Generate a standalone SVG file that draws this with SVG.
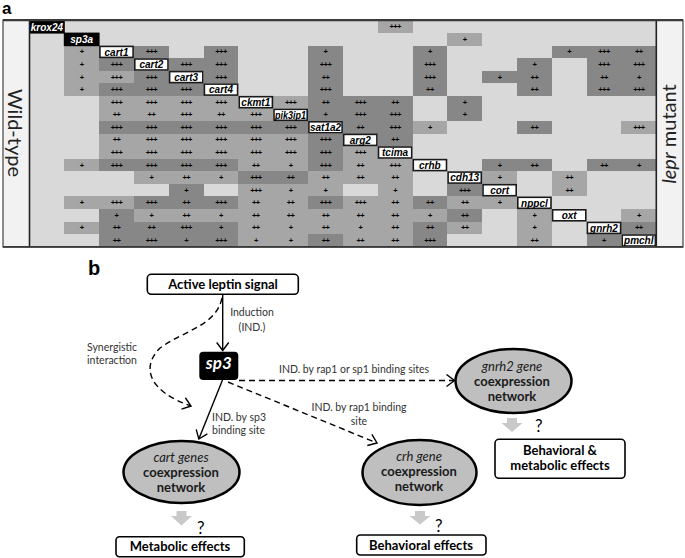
<svg xmlns="http://www.w3.org/2000/svg" xmlns:xlink="http://www.w3.org/1999/xlink" width="685" height="558" viewBox="0 0 685 558">
<defs>
<style>
.row text{font-family:"Liberation Sans",Arial,sans-serif;font-weight:bold;font-size:7.5px;letter-spacing:-0.6px;text-anchor:middle;fill:#000}
.lb rect{fill:#fff;stroke:#1a1a1a;stroke-width:1.6}
.lb text{font-family:"Liberation Sans",Arial,sans-serif;font-weight:bold;font-style:italic;font-size:10px;text-anchor:middle;fill:#000}
.lb.k rect{fill:#000;stroke:#000}
.lb.k text{fill:#fff}
.side{font-family:Lato,"Open Sans",sans-serif;font-size:20px;fill:#222;text-anchor:middle}
.box{fill:#fff;stroke:#000;stroke-width:1.6}
.bt{font-family:Lato,"Open Sans",sans-serif;font-weight:bold;font-size:13px;text-anchor:middle;fill:#000}
.sm{font-family:Lato,"Open Sans",sans-serif;font-size:10.5px;fill:#333}
.ell{fill:#bfbfbf;stroke:#000;stroke-width:2.5}
.et{font-family:Lato,"Open Sans",sans-serif;font-size:13px;text-anchor:middle;fill:#1a1a1a}
.et .i{font-style:italic}
.et .b{font-weight:bold}
.ga{fill:#c9c9c9}
.q{font-family:Lato,"Open Sans",sans-serif;font-size:17px;fill:#000}
.conn{fill:none;stroke:#000;stroke-width:1.4}
.dash{stroke-dasharray:6 4}
</style>
<rect id="M" width="34.82" height="12.57" fill="#a6a6a6" shape-rendering="crispEdges"/>
<rect id="D" width="34.82" height="12.57" fill="#878787" shape-rendering="crispEdges"/>
<marker id="ah" viewBox="-1 -1 14 14" refX="8" refY="6" markerWidth="14" markerHeight="14" markerUnits="userSpaceOnUse" orient="auto">
<path d="M0,0 L8,6 L0,12" fill="none" stroke="#000" stroke-width="1.4"/>
</marker>
</defs>
<rect width="685" height="558" fill="#fff"/>

<!-- panel a -->
<text x="2" y="14" font-family="Liberation Sans,Arial,sans-serif" font-weight="bold" font-size="17">a</text>
<rect x="3" y="20" width="680" height="227" fill="#f2f2f2" stroke="#444" stroke-width="1.2"/>
<rect x="29.5" y="20.5" width="626.8" height="226.3" fill="#d9d9d9" shape-rendering="crispEdges"/>

<g id="grid">
<g class="row" transform="translate(0,20.5)"><use xlink:href="#M" x="377.7"/><text x="395.1" y="8.8">+++</text></g>
<g class="row" transform="translate(0,33.07)"><use xlink:href="#M" x="447.3"/><text x="464.7" y="8.8">+</text></g>
<g class="row" transform="translate(0,45.64)">
<use xlink:href="#M" x="64.3"/><text x="81.7" y="8.8">+</text>
<use xlink:href="#D" x="134.0"/><text x="151.4" y="8.8">+++</text>
<use xlink:href="#D" x="203.6"/><text x="221.0" y="8.8">+++</text>
<use xlink:href="#D" x="308.1"/><text x="325.5" y="8.8">+</text>
<use xlink:href="#D" x="412.5"/><text x="429.9" y="8.8">+</text>
<use xlink:href="#D" x="551.8"/><text x="569.2" y="8.8">+</text>
<use xlink:href="#D" x="586.6"/><text x="604.0" y="8.8">+++</text>
<use xlink:href="#D" x="621.4"/><text x="638.8" y="8.8">++</text>
</g>
<g class="row" transform="translate(0,58.21)">
<use xlink:href="#M" x="64.3"/><text x="81.7" y="8.8">+</text>
<use xlink:href="#D" x="99.1"/><text x="116.5" y="8.8">+++</text>
<use xlink:href="#D" x="168.8"/><text x="186.2" y="8.8">+++</text>
<use xlink:href="#D" x="203.6"/><text x="221.0" y="8.8">+++</text>
<use xlink:href="#D" x="308.1"/><text x="325.5" y="8.8">+++</text>
<use xlink:href="#D" x="412.5"/><text x="429.9" y="8.8">+++</text>
<use xlink:href="#D" x="517.0"/><text x="534.4" y="8.8">+</text>
<use xlink:href="#D" x="586.6"/><text x="604.0" y="8.8">+++</text>
<use xlink:href="#D" x="621.4"/><text x="638.8" y="8.8">+++</text>
</g>
<g class="row" transform="translate(0,70.78)">
<use xlink:href="#M" x="64.3"/><text x="81.7" y="8.8">+</text>
<use xlink:href="#M" x="99.1"/><text x="116.5" y="8.8">+++</text>
<use xlink:href="#D" x="134.0"/><text x="151.4" y="8.8">+++</text>
<use xlink:href="#D" x="203.6"/><text x="221.0" y="8.8">+++</text>
<use xlink:href="#D" x="308.1"/><text x="325.5" y="8.8">++</text>
<use xlink:href="#D" x="412.5"/><text x="429.9" y="8.8">+++</text>
<use xlink:href="#D" x="482.2"/><text x="499.6" y="8.8">+</text>
<use xlink:href="#D" x="517.0"/><text x="534.4" y="8.8">++</text>
<use xlink:href="#D" x="586.6"/><text x="604.0" y="8.8">++</text>
<use xlink:href="#D" x="621.4"/><text x="638.8" y="8.8">+</text>
</g>
<g class="row" transform="translate(0,83.35)">
<use xlink:href="#M" x="64.3"/><text x="81.7" y="8.8">+</text>
<use xlink:href="#D" x="99.1"/><text x="116.5" y="8.8">+++</text>
<use xlink:href="#D" x="134.0"/><text x="151.4" y="8.8">+++</text>
<use xlink:href="#D" x="168.8"/><text x="186.2" y="8.8">+++</text>
<use xlink:href="#D" x="308.1"/><text x="325.5" y="8.8">+++</text>
<use xlink:href="#D" x="412.5"/><text x="429.9" y="8.8">++</text>
<use xlink:href="#D" x="517.0"/><text x="534.4" y="8.8">++</text>
<use xlink:href="#D" x="586.6"/><text x="604.0" y="8.8">+++</text>
<use xlink:href="#D" x="621.4"/><text x="638.8" y="8.8">+++</text>
</g>
<g class="row" transform="translate(0,95.92)">
<use xlink:href="#M" x="99.1"/><text x="116.5" y="8.8">+++</text>
<use xlink:href="#M" x="134.0"/><text x="151.4" y="8.8">+++</text>
<use xlink:href="#M" x="168.8"/><text x="186.2" y="8.8">+++</text>
<use xlink:href="#M" x="203.6"/><text x="221.0" y="8.8">+++</text>
<use xlink:href="#M" x="273.2"/><text x="290.6" y="8.8">+++</text>
<use xlink:href="#D" x="308.1"/><text x="325.5" y="8.8">++</text>
<use xlink:href="#D" x="342.9"/><text x="360.3" y="8.8">+++</text>
<use xlink:href="#D" x="377.7"/><text x="395.1" y="8.8">++</text>
<use xlink:href="#D" x="447.3"/><text x="464.7" y="8.8">+</text>
</g>
<g class="row" transform="translate(0,108.49)">
<use xlink:href="#M" x="99.1"/><text x="116.5" y="8.8">++</text>
<use xlink:href="#M" x="134.0"/><text x="151.4" y="8.8">++</text>
<use xlink:href="#M" x="168.8"/><text x="186.2" y="8.8">+++</text>
<use xlink:href="#M" x="203.6"/><text x="221.0" y="8.8">++</text>
<use xlink:href="#M" x="238.4"/><text x="255.8" y="8.8">+++</text>
<use xlink:href="#D" x="308.1"/><text x="325.5" y="8.8">+</text>
<use xlink:href="#D" x="342.9"/><text x="360.3" y="8.8">+++</text>
<use xlink:href="#D" x="377.7"/><text x="395.1" y="8.8">+++</text>
<use xlink:href="#D" x="447.3"/><text x="464.7" y="8.8">+</text>
</g>
<g class="row" transform="translate(0,121.06)">
<use xlink:href="#D" x="99.1"/><text x="116.5" y="8.8">+++</text>
<use xlink:href="#D" x="134.0"/><text x="151.4" y="8.8">+++</text>
<use xlink:href="#D" x="168.8"/><text x="186.2" y="8.8">+++</text>
<use xlink:href="#D" x="203.6"/><text x="221.0" y="8.8">+++</text>
<use xlink:href="#D" x="238.4"/><text x="255.8" y="8.8">+++</text>
<use xlink:href="#D" x="273.2"/><text x="290.6" y="8.8">+++</text>
<use xlink:href="#D" x="342.9"/><text x="360.3" y="8.8">++</text>
<use xlink:href="#D" x="377.7"/><text x="395.1" y="8.8">+++</text>
<use xlink:href="#M" x="412.5"/><text x="429.9" y="8.8">+</text>
<use xlink:href="#D" x="517.0"/><text x="534.4" y="8.8">++</text>
<use xlink:href="#M" x="621.4"/><text x="638.8" y="8.8">+++</text>
</g>
<g class="row" transform="translate(0,133.63)">
<use xlink:href="#M" x="99.1"/><text x="116.5" y="8.8">++</text>
<use xlink:href="#M" x="134.0"/><text x="151.4" y="8.8">+++</text>
<use xlink:href="#M" x="168.8"/><text x="186.2" y="8.8">+++</text>
<use xlink:href="#M" x="203.6"/><text x="221.0" y="8.8">+++</text>
<use xlink:href="#M" x="238.4"/><text x="255.8" y="8.8">+++</text>
<use xlink:href="#M" x="273.2"/><text x="290.6" y="8.8">+++</text>
<use xlink:href="#D" x="308.1"/><text x="325.5" y="8.8">+++</text>
<use xlink:href="#D" x="377.7"/><text x="395.1" y="8.8">++</text>
</g>
<g class="row" transform="translate(0,146.2)">
<use xlink:href="#M" x="99.1"/><text x="116.5" y="8.8">+++</text>
<use xlink:href="#M" x="134.0"/><text x="151.4" y="8.8">+++</text>
<use xlink:href="#M" x="168.8"/><text x="186.2" y="8.8">+++</text>
<use xlink:href="#M" x="203.6"/><text x="221.0" y="8.8">+++</text>
<use xlink:href="#M" x="238.4"/><text x="255.8" y="8.8">+++</text>
<use xlink:href="#M" x="273.2"/><text x="290.6" y="8.8">+++</text>
<use xlink:href="#D" x="308.1"/><text x="325.5" y="8.8">+++</text>
<use xlink:href="#M" x="342.9"/><text x="360.3" y="8.8">+++</text>
</g>
<g class="row" transform="translate(0,158.77)">
<use xlink:href="#M" x="64.3"/><text x="81.7" y="8.8">+</text>
<use xlink:href="#D" x="99.1"/><text x="116.5" y="8.8">+++</text>
<use xlink:href="#D" x="134.0"/><text x="151.4" y="8.8">+++</text>
<use xlink:href="#D" x="168.8"/><text x="186.2" y="8.8">+++</text>
<use xlink:href="#D" x="203.6"/><text x="221.0" y="8.8">+++</text>
<use xlink:href="#M" x="238.4"/><text x="255.8" y="8.8">++</text>
<use xlink:href="#M" x="273.2"/><text x="290.6" y="8.8">+</text>
<use xlink:href="#D" x="308.1"/><text x="325.5" y="8.8">+++</text>
<use xlink:href="#M" x="342.9"/><text x="360.3" y="8.8">++</text>
<use xlink:href="#M" x="377.7"/><text x="395.1" y="8.8">+++</text>
<use xlink:href="#D" x="482.2"/><text x="499.6" y="8.8">+</text>
<use xlink:href="#D" x="517.0"/><text x="534.4" y="8.8">++</text>
<use xlink:href="#D" x="586.6"/><text x="604.0" y="8.8">++</text>
<use xlink:href="#D" x="621.4"/><text x="638.8" y="8.8">+</text>
</g>
<g class="row" transform="translate(0,171.34)">
<use xlink:href="#M" x="134.0"/><text x="151.4" y="8.8">+</text>
<use xlink:href="#M" x="168.8"/><text x="186.2" y="8.8">++</text>
<use xlink:href="#M" x="203.6"/><text x="221.0" y="8.8">+</text>
<use xlink:href="#D" x="238.4"/><text x="255.8" y="8.8">+++</text>
<use xlink:href="#D" x="273.2"/><text x="290.6" y="8.8">++</text>
<use xlink:href="#M" x="308.1"/><text x="325.5" y="8.8">++</text>
<use xlink:href="#M" x="342.9"/><text x="360.3" y="8.8">++</text>
<use xlink:href="#M" x="377.7"/><text x="395.1" y="8.8">++</text>
<use xlink:href="#M" x="482.2"/><text x="499.6" y="8.8">+</text>
<use xlink:href="#M" x="551.8"/><text x="569.2" y="8.8">++</text>
</g>
<g class="row" transform="translate(0,183.91)">
<use xlink:href="#D" x="168.8"/><text x="186.2" y="8.8">+</text>
<use xlink:href="#M" x="238.4"/><text x="255.8" y="8.8">+++</text>
<use xlink:href="#M" x="273.2"/><text x="290.6" y="8.8">+</text>
<use xlink:href="#M" x="308.1"/><text x="325.5" y="8.8">+</text>
<use xlink:href="#M" x="377.7"/><text x="395.1" y="8.8">+</text>
<use xlink:href="#D" x="447.3"/><text x="464.7" y="8.8">+++</text>
<use xlink:href="#M" x="551.8"/><text x="569.2" y="8.8">++</text>
</g>
<g class="row" transform="translate(0,196.48)">
<use xlink:href="#M" x="64.3"/><text x="81.7" y="8.8">+</text>
<use xlink:href="#M" x="99.1"/><text x="116.5" y="8.8">+++</text>
<use xlink:href="#D" x="134.0"/><text x="151.4" y="8.8">+++</text>
<use xlink:href="#D" x="168.8"/><text x="186.2" y="8.8">++</text>
<use xlink:href="#D" x="203.6"/><text x="221.0" y="8.8">+++</text>
<use xlink:href="#M" x="238.4"/><text x="255.8" y="8.8">++</text>
<use xlink:href="#M" x="273.2"/><text x="290.6" y="8.8">++</text>
<use xlink:href="#D" x="308.1"/><text x="325.5" y="8.8">+++</text>
<use xlink:href="#M" x="342.9"/><text x="360.3" y="8.8">+++</text>
<use xlink:href="#M" x="377.7"/><text x="395.1" y="8.8">++</text>
<use xlink:href="#D" x="412.5"/><text x="429.9" y="8.8">++</text>
<use xlink:href="#M" x="447.3"/><text x="464.7" y="8.8">++</text>
<use xlink:href="#M" x="482.2"/><text x="499.6" y="8.8">+</text>
</g>
<g class="row" transform="translate(0,209.05)">
<use xlink:href="#D" x="99.1"/><text x="116.5" y="8.8">+</text>
<use xlink:href="#M" x="134.0"/><text x="151.4" y="8.8">+</text>
<use xlink:href="#M" x="168.8"/><text x="186.2" y="8.8">++</text>
<use xlink:href="#M" x="203.6"/><text x="221.0" y="8.8">+</text>
<use xlink:href="#M" x="238.4"/><text x="255.8" y="8.8">++</text>
<use xlink:href="#M" x="273.2"/><text x="290.6" y="8.8">++</text>
<use xlink:href="#M" x="308.1"/><text x="325.5" y="8.8">++</text>
<use xlink:href="#M" x="342.9"/><text x="360.3" y="8.8">++</text>
<use xlink:href="#M" x="377.7"/><text x="395.1" y="8.8">++</text>
<use xlink:href="#M" x="412.5"/><text x="429.9" y="8.8">+</text>
<use xlink:href="#D" x="447.3"/><text x="464.7" y="8.8">++</text>
<use xlink:href="#M" x="517.0"/><text x="534.4" y="8.8">+</text>
<use xlink:href="#M" x="621.4"/><text x="638.8" y="8.8">+</text>
</g>
<g class="row" transform="translate(0,221.62)">
<use xlink:href="#M" x="64.3"/><text x="81.7" y="8.8">+</text>
<use xlink:href="#D" x="99.1"/><text x="116.5" y="8.8">++</text>
<use xlink:href="#D" x="134.0"/><text x="151.4" y="8.8">++</text>
<use xlink:href="#D" x="168.8"/><text x="186.2" y="8.8">+++</text>
<use xlink:href="#D" x="203.6"/><text x="221.0" y="8.8">+</text>
<use xlink:href="#M" x="238.4"/><text x="255.8" y="8.8">++</text>
<use xlink:href="#M" x="273.2"/><text x="290.6" y="8.8">+</text>
<use xlink:href="#M" x="308.1"/><text x="325.5" y="8.8">++</text>
<use xlink:href="#M" x="342.9"/><text x="360.3" y="8.8">+</text>
<use xlink:href="#M" x="377.7"/><text x="395.1" y="8.8">++</text>
<use xlink:href="#D" x="412.5"/><text x="429.9" y="8.8">++</text>
<use xlink:href="#M" x="447.3"/><text x="464.7" y="8.8">++</text>
<use xlink:href="#M" x="517.0"/><text x="534.4" y="8.8">+</text>
<use xlink:href="#D" x="621.4"/><text x="638.8" y="8.8">++</text>
</g>
<g class="row" transform="translate(0,234.19)">
<use xlink:href="#D" x="99.1"/><text x="116.5" y="8.8">++</text>
<use xlink:href="#D" x="134.0"/><text x="151.4" y="8.8">+++</text>
<use xlink:href="#D" x="168.8"/><text x="186.2" y="8.8">+</text>
<use xlink:href="#D" x="203.6"/><text x="221.0" y="8.8">+++</text>
<use xlink:href="#M" x="238.4"/><text x="255.8" y="8.8">+</text>
<use xlink:href="#M" x="273.2"/><text x="290.6" y="8.8">+</text>
<use xlink:href="#D" x="308.1"/><text x="325.5" y="8.8">++</text>
<use xlink:href="#M" x="342.9"/><text x="360.3" y="8.8">++</text>
<use xlink:href="#M" x="377.7"/><text x="395.1" y="8.8">++</text>
<use xlink:href="#D" x="412.5"/><text x="429.9" y="8.8">+++</text>
<use xlink:href="#M" x="517.0"/><text x="534.4" y="8.8">++</text>
<use xlink:href="#D" x="586.6"/><text x="604.0" y="8.8">+</text>
</g>
</g>

<g id="gene-labels">
<g class="lb k" id="g-krox24"><rect x="29.8" y="20.8" width="34.2" height="12"/><text x="46.9" y="30.5">krox24</text></g>
<g class="lb k" id="g-sp3a"><rect x="64.6" y="33.4" width="34.2" height="12"/><text x="81.7" y="43.1">sp3a</text></g>
<g class="lb" id="g-cart1"><rect x="99.9" y="46.4" width="33.2" height="11"/><text x="116.5" y="55.6">cart1</text></g>
<g class="lb" id="g-cart2"><rect x="134.8" y="59" width="33.2" height="11"/><text x="151.4" y="68.2">cart2</text></g>
<g class="lb" id="g-cart3"><rect x="169.6" y="71.6" width="33.2" height="11"/><text x="186.2" y="80.8">cart3</text></g>
<g class="lb" id="g-cart4"><rect x="204.4" y="84.1" width="33.2" height="11"/><text x="221.0" y="93.3">cart4</text></g>
<g class="lb" id="g-ckmt1"><rect x="239.2" y="96.7" width="33.2" height="11"/><text x="255.8" y="105.9">ckmt1</text></g>
<g class="lb" id="g-pik3ip1"><rect x="274" y="109.3" width="33.2" height="11"/><text x="290.6" y="118.5" textLength="31" lengthAdjust="spacingAndGlyphs">pik3ip1</text></g>
<g class="lb" id="g-sat1a2"><rect x="308.9" y="121.8" width="33.2" height="11"/><text x="325.5" y="131">sat1a2</text></g>
<g class="lb" id="g-arg2"><rect x="343.7" y="134.4" width="33.2" height="11"/><text x="360.3" y="143.6">arg2</text></g>
<g class="lb" id="g-tcima"><rect x="378.5" y="147" width="33.2" height="11"/><text x="395.1" y="156.2">tcima</text></g>
<g class="lb" id="g-crhb"><rect x="413.3" y="159.6" width="33.2" height="11"/><text x="429.9" y="168.8">crhb</text></g>
<g class="lb" id="g-cdh13"><rect x="448.1" y="172.1" width="33.2" height="11"/><text x="464.7" y="181.3">cdh13</text></g>
<g class="lb" id="g-cort"><rect x="483" y="184.7" width="33.2" height="11"/><text x="499.6" y="193.9">cort</text></g>
<g class="lb" id="g-nppcl"><rect x="517.8" y="197.3" width="33.2" height="11"/><text x="534.4" y="206.5">nppcl</text></g>
<g class="lb" id="g-oxt"><rect x="552.6" y="209.8" width="33.2" height="11"/><text x="569.2" y="219">oxt</text></g>
<g class="lb" id="g-gnrh2"><rect x="587.4" y="222.4" width="33.2" height="11"/><text x="604.0" y="231.6">gnrh2</text></g>
<g class="lb" id="g-pmchl"><rect x="622.2" y="235" width="33.2" height="11"/><text x="638.8" y="244.2">pmchl</text></g>
</g>

<line x1="29.5" y1="20" x2="29.5" y2="247" stroke="#222" stroke-width="1.6"/>
<line x1="656.3" y1="20" x2="656.3" y2="247" stroke="#222" stroke-width="1.6"/>
<line x1="3" y1="20.2" x2="683" y2="20.2" stroke="#3a3a3a" stroke-width="2.2"/>
<line x1="3" y1="246.8" x2="683" y2="246.8" stroke="#3a3a3a" stroke-width="1.8"/>

<text class="side" transform="translate(8,133) rotate(90)">Wild-type</text>
<text class="side" transform="translate(676,134) rotate(-90)"><tspan font-style="italic">lepr</tspan> mutant</text>

<!-- panel b -->
<text x="88" y="275" font-family="Liberation Sans,Arial,sans-serif" font-weight="bold" font-size="20">b</text>

<g id="connectors">
<line class="conn" x1="222.7" y1="294.5" x2="222.7" y2="350.5" marker-end="url(#ah)"/>
<path class="conn dash" d="M222,298 C216,326 185,330 160,348 C140,368 150,392 191,406" marker-end="url(#ah)"/>
<line class="conn" x1="222.5" y1="380" x2="198.8" y2="439" marker-end="url(#ah)"/>
<line class="conn dash" x1="239" y1="380.5" x2="454.5" y2="380.5" marker-end="url(#ah)"/>
<line class="conn dash" x1="228" y1="382" x2="377" y2="443" marker-end="url(#ah)"/>
<text class="sm" x="252" y="316" text-anchor="middle">Induction</text>
<text class="sm" x="252" y="331" text-anchor="middle">(IND.)</text>
<text class="sm" x="112" y="351" text-anchor="middle">Synergistic</text>
<text class="sm" x="112" y="364" text-anchor="middle">interaction</text>
<text class="sm" x="354" y="373" text-anchor="middle">IND. by rap1 or sp1 binding sites</text>
<text class="sm" x="359" y="411" text-anchor="middle">IND. by rap1 binding</text>
<text class="sm" x="359" y="425" text-anchor="middle">site</text>
<text class="sm" x="212" y="421">IND. by sp3</text>
<text class="sm" x="212" y="434">binding site</text>
</g>

<g id="n-leptin"><rect class="box" x="147.3" y="274.3" width="151" height="20" rx="4"/><text class="bt" x="223" y="288.6">Active leptin signal</text></g>
<g id="n-sp3"><rect x="199.3" y="351.7" width="39" height="28.3" rx="4" fill="#000"/><text x="218.8" y="368.5" font-family="Lato,'Open Sans',sans-serif" font-weight="bold" font-style="italic" font-size="17" fill="#fff" text-anchor="middle">sp3</text></g>

<g id="n-cart">
<ellipse class="ell" cx="181.5" cy="472" rx="58" ry="31"/>
<text class="et" x="181" y="462"><tspan class="i">cart genes</tspan></text>
<text class="et" x="181" y="477"><tspan class="b">coexpression</tspan></text>
<text class="et" x="181" y="492"><tspan class="b">network</tspan></text>
</g>
<g id="n-crh">
<ellipse class="ell" cx="419.5" cy="472.5" rx="57" ry="32.5"/>
<text class="et" x="419" y="461"><tspan class="i">crh gene</tspan></text>
<text class="et" x="419" y="476"><tspan class="b">coexpression</tspan></text>
<text class="et" x="419" y="491"><tspan class="b">network</tspan></text>
</g>
<g id="n-gnrh2">
<ellipse class="ell" cx="513.5" cy="381" rx="58" ry="32"/>
<text class="et" x="512" y="371"><tspan class="i">gnrh2 gene</tspan></text>
<text class="et" x="512" y="386"><tspan class="b">coexpression</tspan></text>
<text class="et" x="512" y="401"><tspan class="b">network</tspan></text>
</g>

<g id="n-metabolic">
<path class="ga" d="M176.5,511 h10 v5 h5.5 l-10.5,9.5 l-10.5,-9.5 h5.5 z"/>
<text class="q" x="197" y="534">?</text>
<rect class="box" x="116" y="536.7" width="128.3" height="20" rx="3.5"/>
<text class="bt" x="180" y="551">Metabolic effects</text>
</g>
<g id="n-behavioral">
<path class="ga" d="M415,511 h10 v5 h5.5 l-10.5,8.5 l-10.5,-8.5 h5.5 z"/>
<text class="q" x="435" y="532">?</text>
<rect class="box" x="356.7" y="535" width="129.3" height="20" rx="3.5"/>
<text class="bt" x="421" y="549.5">Behavioral effects</text>
</g>
<g id="n-behav-metab">
<path class="ga" d="M507,418 h10 v5 h5.5 l-10.5,9 l-10.5,-9 h5.5 z"/>
<text class="q" x="535" y="432">?</text>
<rect class="box" x="495" y="439.3" width="130" height="39" rx="4"/>
<text class="bt" x="560" y="455">Behavioral &amp;</text>
<text class="bt" x="560" y="470">metabolic effects</text>
</g>
</svg>
